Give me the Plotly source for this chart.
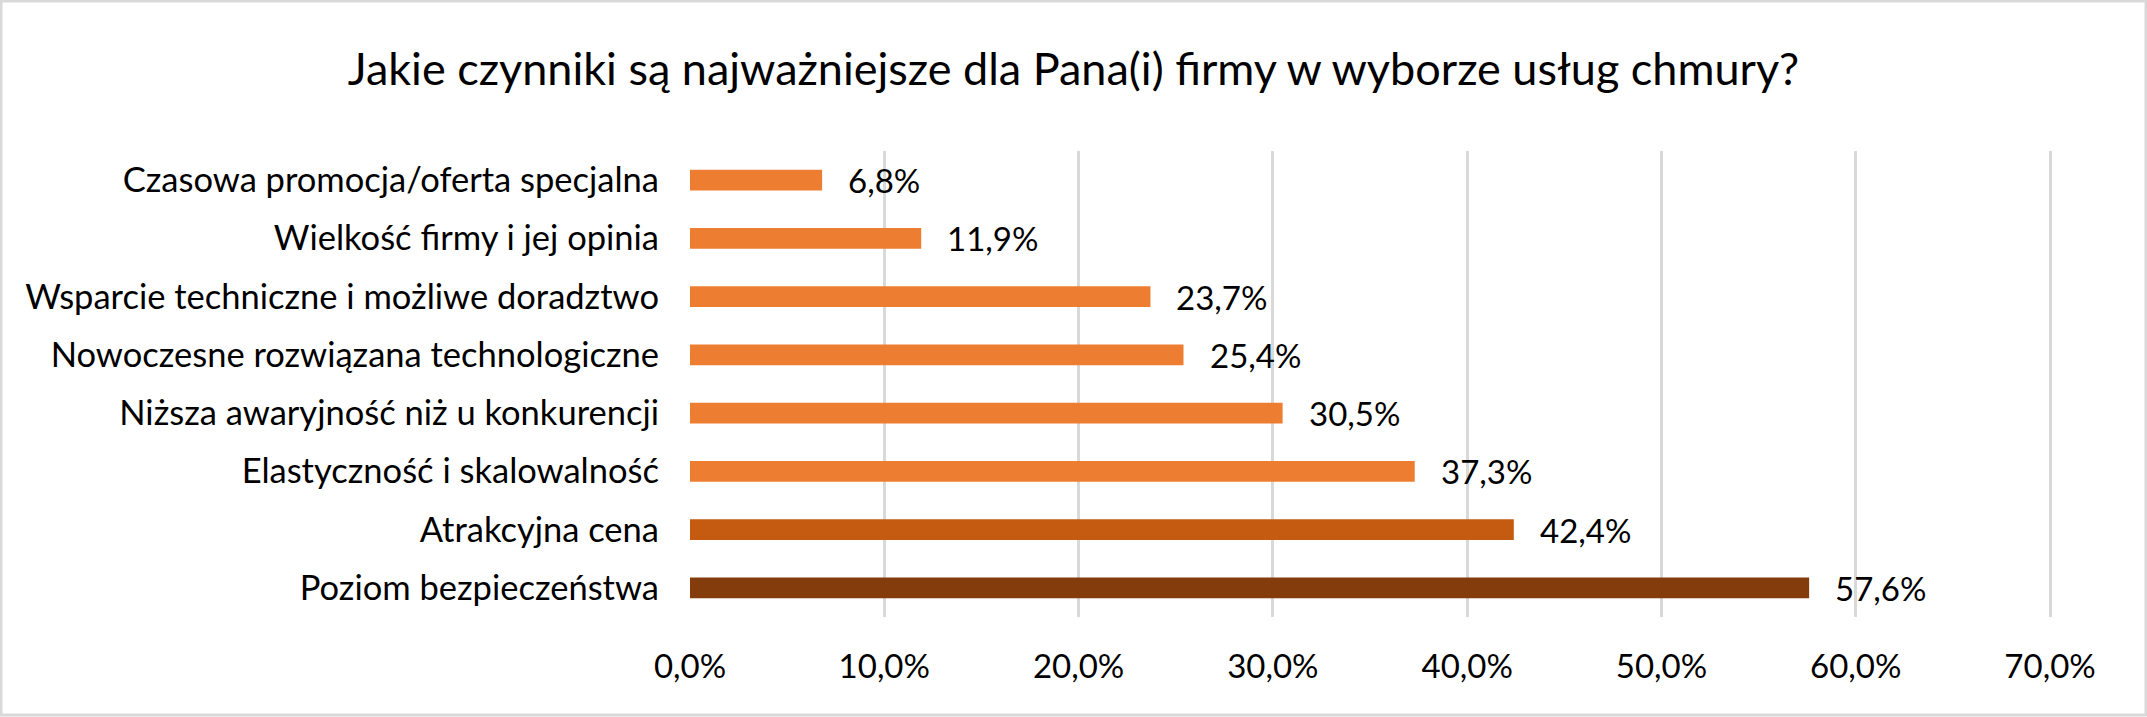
import plotly.graph_objects as go

categories = [
    "Poziom bezpieczeństwa",
    "Atrakcyjna cena",
    "Elastyczność i skalowalność",
    "Niższa awaryjność niż u konkurencji",
    "Nowoczesne rozwiązana technologiczne",
    "Wsparcie techniczne i możliwe doradztwo",
    "Wielkość firmy i jej opinia",
    "Czasowa promocja/oferta specjalna",
]
values = [0.576, 0.424, 0.373, 0.305, 0.254, 0.237, 0.119, 0.068]
colors = ["#843C0C", "#C55A11", "#ED7D31", "#ED7D31", "#ED7D31", "#ED7D31", "#ED7D31", "#ED7D31"]
tick_vals = [0, 0.1, 0.2, 0.3, 0.4, 0.5, 0.6, 0.7]
title_text = "Jakie czynniki są najważniejsze dla Pana(i) firmy w wyborze usług chmury?"

W, H = 2147, 717
ML, MR, MT, MB = 690, 95, 151, 100
FONT = "Lato"
FS = 33

fig = go.Figure()
fig.add_trace(go.Bar(
    x=values, y=categories, orientation="h",
    marker=dict(color=colors, line=dict(width=0)),
    width=0.36, hoverinfo="skip",
))

for v, c in zip(values, categories):
    fig.add_annotation(x=v, y=c, xref="x", yref="y", text=f"{v*100:.1f}%".replace(".", ","),
                       showarrow=False, xanchor="left", yanchor="middle", xshift=24,
                       font=dict(family=FONT, size=FS, color="#000000"))

pw = W - ML - MR
ph = H - MT - MB
fig.add_shape(type="rect", xref="paper", yref="paper",
              x0=(1 - ML) / pw, x1=(W - ML - 1) / pw,
              y0=-(MB - 2) / ph, y1=1 + (MT - 1) / ph,
              line=dict(color="#D9D9D9", width=3), layer="below")

fig.update_layout(
    width=W, height=H,
    margin=dict(l=ML, r=MR, t=MT, b=MB, pad=0),
    paper_bgcolor="white", plot_bgcolor="white",
    separators=", ",
    showlegend=False,
    title=dict(text=title_text, x=0.5, xref="container", xanchor="center",
               y=1 - 69 / H, yref="container", yanchor="middle",
               font=dict(family=FONT, size=45, color="#000000")),
    font=dict(family=FONT, size=FS, color="#000000"),
    xaxis=dict(range=[0, 0.701], tickvals=tick_vals, tickformat=".1%",
               showgrid=True, gridcolor="#D9D9D9", gridwidth=2.5,
               zeroline=False, showline=False, ticks="",
               ticklabelstandoff=27,
               tickfont=dict(family=FONT, size=FS, color="#000000"),
               fixedrange=True),
    yaxis=dict(categoryorder="array", categoryarray=categories,
               showgrid=False, zeroline=False, showline=False, ticks="",
               ticklabelstandoff=30,
               tickfont=dict(family=FONT, size=34.5, color="#000000"),
               fixedrange=True),
)

fig.write_html("out.html")
